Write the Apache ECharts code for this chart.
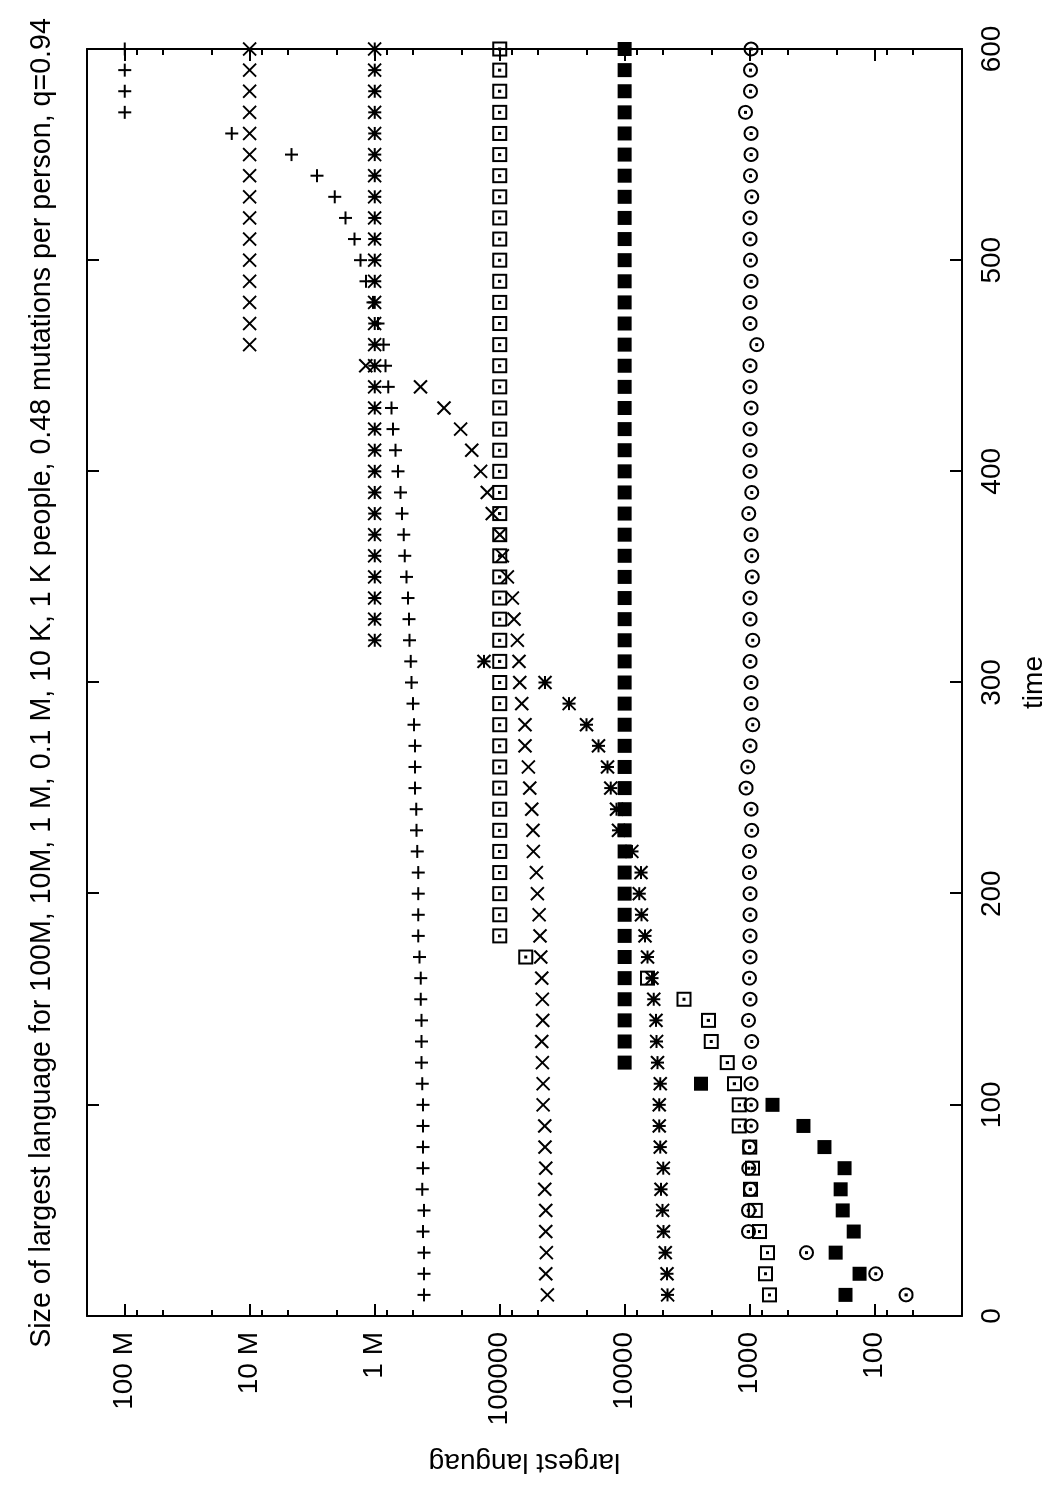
<!DOCTYPE html>
<html>
<head>
<meta charset="utf-8">
<title>Size of largest language</title>
<script src="https://cdn.jsdelivr.net/npm/echarts@6/dist/echarts.min.js"></script>
<style>
  html, body { margin: 0; padding: 0; background: #fff; width: 1050px; height: 1500px; overflow: hidden; }
  /* the plot is laid out landscape and turned a quarter turn, like the printed page */
  #chart { position: absolute; left: 0; top: 1500px; width: 1500px; height: 1050px;
           transform-origin: 0 0; transform: rotate(-90deg); }
</style>
</head>
<body>
<div id="chart"></div>
<script>
const FONT = '"Liberation Sans", Arial, Helvetica, sans-serif';
const titleText = 'Size of largest language for 100M, 10M, 1 M, 0.1 M, 10 K, 1 K people, 0.48 mutations per person, q=0.94';

const times = [10, 20, 30, 40, 50, 60, 70, 80, 90, 100,
  110, 120, 130, 140, 150, 160, 170, 180, 190, 200,
  210, 220, 230, 240, 250, 260, 270, 280, 290, 300,
  310, 320, 330, 340, 350, 360, 370, 380, 390, 400,
  410, 420, 430, 440, 450, 460, 470, 480, 490, 500,
  510, 520, 530, 540, 550, 560, 570, 580, 590, 600];

// 100M people
const plus100M = [403600, 403600, 403600, 411000, 403600, 416000, 411000, 411000, 411000, 411000,
  416000, 421000, 421000, 421000, 428500, 428500, 436700, 448000, 448000, 448000,
  448000, 456500, 461500, 465000, 476000, 476000, 476000, 485000, 494000, 506000,
  515000, 525000, 532000, 542000, 555000, 573000, 584000, 603000, 621000, 649000,
  680000, 714000, 732000, 779000, 818000, 850000, 940000, 1030000, 1170000, 1300000,
  1450000, 1710000, 2080000, 2890000, 4630000, 13900000, 1e8, 1e8, 1e8, 1e8];

// 10M people
const cross10M = [41500, 42700, 42300, 42700, 42700, 43500, 42700, 43300, 43500, 44900,
  44900, 45500, 46000, 45200, 45500, 46000, 46900, 47500, 48300, 49900,
  50800, 53700, 54000, 55300, 57400, 58900, 62600, 62600, 66500, 69000,
  69900, 72100, 76700, 79100, 86700, 95100, 99800, 114500, 125500, 142000,
  167000, 205000, 279000, 429000, 1178000, 1e7, 1e7, 1e7, 1e7, 1e7,
  1e7, 1e7, 1e7, 1e7, 1e7, 1e7, 1e7, 1e7, 1e7, 1e7];

// 1 M people
const star1M = [4530, 4580, 4730, 4880, 4970, 5120, 4900, 5190, 5280, 5280,
  5190, 5450, 5550, 5610, 5850, 6040, 6560, 6880, 7330, 7640,
  7400, 8750, 11200, 11600, 12900, 13700, 16200, 20200, 27800, 43300,
  133400, 1e6, 1e6, 1e6, 1e6, 1e6, 1e6, 1e6, 1e6, 1e6,
  1e6, 1e6, 1e6, 1e6, 1e6, 1e6, 1e6, 1e6, 1e6, 1e6,
  1e6, 1e6, 1e6, 1e6, 1e6, 1e6, 1e6, 1e6, 1e6, 1e6];

// 0.1 M people
const box01M = [694, 747, 720, 834, 900, 986, 950, 1000, 1208, 1208,
  1324, 1507, 2024, 2138, 3350, 6560, 61800, 1e5, 1e5, 1e5,
  1e5, 1e5, 1e5, 1e5, 1e5, 1e5, 1e5, 1e5, 1e5, 1e5,
  1e5, 1e5, 1e5, 1e5, 1e5, 1e5, 1e5, 1e5, 1e5, 1e5,
  1e5, 1e5, 1e5, 1e5, 1e5, 1e5, 1e5, 1e5, 1e5, 1e5,
  1e5, 1e5, 1e5, 1e5, 1e5, 1e5, 1e5, 1e5, 1e5, 1e5];

// 10 K people
const filled10K = [171, 132, 205, 147, 180, 187, 174, 252, 371, 656,
  2450, 1e4, 1e4, 1e4, 1e4, 1e4, 1e4, 1e4, 1e4, 1e4,
  1e4, 1e4, 1e4, 1e4, 1e4, 1e4, 1e4, 1e4, 1e4, 1e4,
  1e4, 1e4, 1e4, 1e4, 1e4, 1e4, 1e4, 1e4, 1e4, 1e4,
  1e4, 1e4, 1e4, 1e4, 1e4, 1e4, 1e4, 1e4, 1e4, 1e4,
  1e4, 1e4, 1e4, 1e4, 1e4, 1e4, 1e4, 1e4, 1e4, 1e4];

// 1 K people
const circle1K = [56, 98, 351, 1023, 1023, 985, 1017, 1004, 973, 973,
  973, 1004, 962, 1023, 991, 1004, 991, 991, 991, 991,
  1004, 1004, 962, 973, 1067, 1035, 991, 944, 973, 973,
  991, 944, 991, 991, 955, 962, 973, 1017, 962, 991,
  991, 991, 973, 991, 991, 877, 991, 991, 973, 985,
  991, 991, 962, 985, 973, 973, 1081, 985, 985, 973];

const yTickValues = [100, 1000, 10000, 100000, 1000000, 10000000, 100000000];
const yTickLabels = ['100', '1000', '10000', '100000', '1 M', '10 M', '100 M'];
const yMinorTicks = [50, 80, 200, 500, 800, 2000, 5000, 8000, 20000, 50000, 80000,
  200000, 500000, 800000, 2000000, 5000000, 8000000, 20000000, 50000000, 80000000];

// gnuplot-like point shapes
const SYM_PLUS = 'path://M0,5L10,5M5,0L5,10';
const SYM_CROSS = 'path://M0,0L10,10M10,0L0,10';
const SYM_STAR = 'path://M0,5L10,5M5,0L5,10M0,0L10,10M10,0L0,10';
const SYM_BOX = 'path://M0,0L10,0L10,10L0,10Z M4.6,4.6L5.4,4.6L5.4,5.4L4.6,5.4Z';
const SYM_CIRCLE = 'path://M0,5A5,5,0,1,1,10,5A5,5,0,1,1,0,5Z M4.6,4.6L5.4,4.6L5.4,5.4L4.6,5.4Z';

function pairs(values) {
  return times.map((t, i) => [t, values[i]]);
}

function points(name, values, symbol, size, filled) {
  return {
    name: name,
    type: 'scatter',
    data: pairs(values),
    symbol: symbol,
    symbolSize: size,
    xAxisIndex: 0,
    yAxisIndex: 0,
    silent: true,
    emphasis: { disabled: true },
    itemStyle: filled
      ? { color: '#000', borderWidth: 0, opacity: 1 }
      : { color: 'none', borderColor: '#000', borderWidth: 2, opacity: 1 }
  };
}

const lineStyle = { color: '#000', width: 2 };
const labelStyle = { fontSize: 28, color: '#000', fontFamily: FONT };

function timeAxis(pos, withLabels) {
  return {
    type: 'value', min: 0, max: 600, interval: 100, position: pos,
    name: withLabels ? 'time' : '',
    nameLocation: 'middle', nameGap: 58, nameMoveOverlap: false,
    nameTextStyle: labelStyle,
    axisLine: { onZero: false, lineStyle: lineStyle },
    axisTick: { inside: true, length: 12, lineStyle: lineStyle },
    axisLabel: Object.assign({ show: withLabels, margin: 16 }, labelStyle),
    splitLine: { show: false }
  };
}

function sizeAxis(pos, withLabels) {
  return {
    type: 'log', logBase: 10, min: 20, max: 2e8, position: pos,
    name: withLabels ? 'largest languag' : '',
    nameLocation: 'middle', nameGap: 132, nameRotate: 90, nameMoveOverlap: false,
    nameTextStyle: labelStyle,
    axisLine: { onZero: false, lineStyle: lineStyle },
    axisTick: { inside: true, length: 12, lineStyle: lineStyle, customValues: yTickValues },
    axisLabel: Object.assign({
      show: withLabels, margin: 16, customValues: yTickValues,
      formatter: function (v) {
        const i = yTickValues.findIndex(x => Math.abs(x - v) / x < 1e-6);
        return i >= 0 ? yTickLabels[i] : '';
      }
    }, labelStyle),
    splitLine: { show: false }
  };
}

function minorAxis(pos) {
  return {
    type: 'log', logBase: 10, min: 20, max: 2e8, position: pos,
    axisLine: { show: false, onZero: false },
    axisTick: { inside: true, length: 6, lineStyle: lineStyle, customValues: yMinorTicks },
    axisLabel: { show: false },
    splitLine: { show: false }
  };
}

const chart = echarts.init(document.getElementById('chart'), null, { width: 1500, height: 1050 });

chart.setOption({
  animation: false,
  backgroundColor: '#fff',
  textStyle: { fontFamily: FONT },
  grid: { left: 184, right: 49, top: 87, bottom: 88, containLabel: false, outerBoundsMode: 'none' },
  graphic: [{
    type: 'text', x: 817, y: 42, silent: true,
    style: { text: titleText, fontSize: 28.6, fontFamily: FONT, fill: '#000', align: 'center', verticalAlign: 'middle' }
  }],
  xAxis: [timeAxis('bottom', true), timeAxis('top', false)],
  yAxis: [sizeAxis('left', true), sizeAxis('right', false), minorAxis('left'), minorAxis('right')],
  series: [
    points('100M', plus100M, SYM_PLUS, 13, false),
    points('10M', cross10M, SYM_CROSS, 13, false),
    points('1 M', star1M, SYM_STAR, 13, false),
    points('0.1 M', box01M, SYM_BOX, 13, false),
    points('10 K', filled10K, 'rect', 14, true),
    points('1 K', circle1K, SYM_CIRCLE, 13, false)
  ]
});
</script>
</body>
</html>
